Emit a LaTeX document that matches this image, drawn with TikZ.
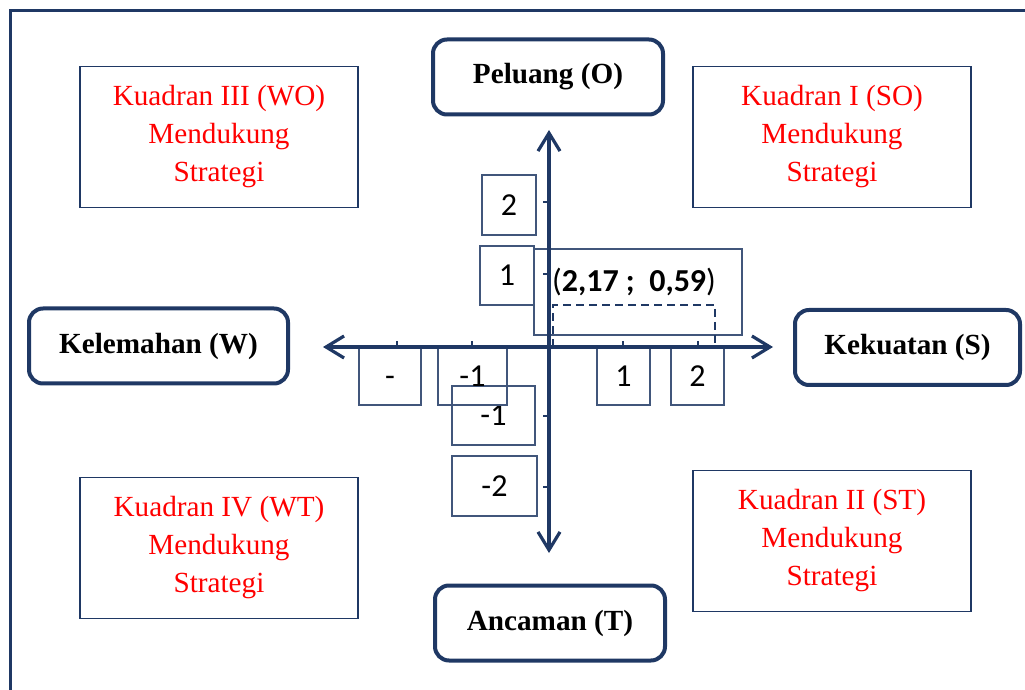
\documentclass[tikz,border=0pt]{standalone}
\usepackage{fontspec}
\setmainfont{Liberation Serif}
\newfontfamily\calib{Carlito}
\usepackage{tkz-euclide}
\usetikzlibrary{arrows.meta}
\definecolor{navy}{HTML}{1F3864}

\begin{document}
\begin{tikzpicture}[x=0.5pt, y=-0.5pt,
    kuadran/.style={draw=navy, line width=0.7pt, align=center, text=red,
      font=\fontsize{14.6}{19}\selectfont, minimum width=139pt, minimum height=70.5pt},
    arah/.style={draw=navy, line width=2pt, rounded corners=7pt,
      font=\bfseries\fontsize{14.6}{19}\selectfont, minimum height=37.5pt},
    skala/.style={draw=navy!85, line width=0.7pt, inner sep=0pt,
      font=\calib\fontsize{16}{19}\selectfont},
    sumbu/.style={navy, line width=1.6pt}]
    \useasboundingbox (0,0) rectangle (1025,690);
    \draw[navy, line width=1.5pt] (10,690) -- (10,11) -- (1025,11);
    % kuadran
    \node[kuadran] (wo) at (219,137) {Kuadran III (WO)\\Mendukung\\Strategi};
    \node[kuadran] (so) at (832,137) {Kuadran I (SO)\\Mendukung\\Strategi};
    \node[kuadran] (wt) at (219,548) {Kuadran IV (WT)\\Mendukung\\Strategi};
    \node[kuadran] (st) at (832,541) {Kuadran II (ST)\\Mendukung\\Strategi};
    \node[arah, minimum width=115pt] (peluang) at (548,77) {Peluang (O)};
    \node[arah, minimum width=129.5pt] (lemah) at (158.5,346) {Kelemahan (W)};
    \node[arah, minimum width=112.5pt] (kuat) at (907.5,347.5) {Kekuatan (S)};
    \node[arah, minimum width=115pt] (ancam) at (550,623) {Ancaman (T)};
    % skala
    \node[skala, minimum width=27pt, minimum height=30pt] (ya) at (509,205) {2};
    \node[skala, minimum width=27pt, minimum height=29.5pt] (yb) at (507,275.5) {1};
    \node[skala, minimum width=41.5pt, minimum height=29.5pt] (yc) at (493.5,415.5) {-1\hspace{8pt}};
    \node[skala, minimum width=42.5pt, minimum height=30pt] (yd) at (494.5,486) {-2\hspace{8pt}};
    \node[skala, minimum width=31pt, minimum height=28.5pt] (xa) at (390,376.5) {-\vphantom{1}\hspace{7pt}};
    \node[skala, minimum width=34.5pt, minimum height=28.5pt] (xb) at (472.5,376.5) {-1};
    \node[skala, minimum width=26.5pt, minimum height=28.5pt] (xc) at (623.5,376.5) {1};
    \node[skala, minimum width=26.5pt, minimum height=28.5pt] (xd) at (697.5,376.5) {2};
    % titik
    \node[skala, minimum width=104pt, minimum height=43pt] (titik) at (638,292) {};
    \node[font=\calib\fontsize{16}{19}\selectfont, inner sep=0pt] (nilai) at (634,282)
      {(\textbf{2,17 ;\ \ 0,59})};
    \draw[navy, line width=1pt, dash pattern=on 4pt off 2.5pt] (553,347) |- (715,305) -- (715,347);
    % sumbu
    \tkzDefPoints{323/347/W, 773/347/S, 549/130/O, 549/553/T}
    \draw[sumbu, {Straight Barb[length=9pt, width=11pt]}-{Straight Barb[length=9pt, width=11pt]}] (W) -- (S);
    \draw[sumbu, {Straight Barb[length=9pt, width=11pt]}-{Straight Barb[length=9pt, width=11pt]}] (T) -- (O);
    \foreach \x in {397,472,623,698} \draw[navy, line width=1pt] (\x,341) -- (\x,347);
    \foreach \y in {202,274,416,487} \draw[navy, line width=1pt] (543,\y) -- (549,\y);
\end{tikzpicture}
\end{document}
